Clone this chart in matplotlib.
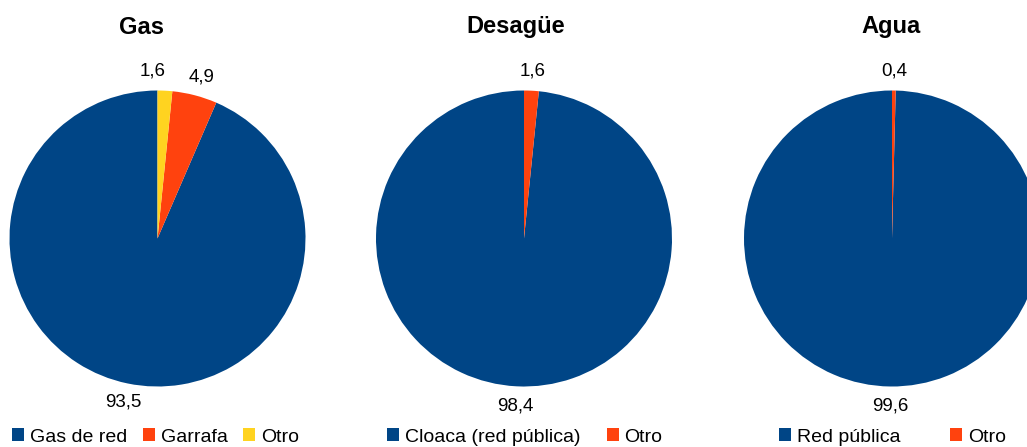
import numpy as np
import matplotlib
matplotlib.use("Agg")
import matplotlib.pyplot as plt
from matplotlib.patches import Patch

plt.rcParams['font.family'] = ['Liberation Sans', 'DejaVu Sans']

BLUE = '#004586'
ORANGE = '#ff420e'
YELLOW = '#ffd320'

gas_labels = ['Gas de red', 'Garrafa', 'Otro']
gas_values = [93.5, 4.9, 1.6]

desague_labels = ['Cloaca (red pública)', 'Otro']
desague_values = [98.4, 1.6]

agua_labels = ['Red pública', 'Otro']
agua_values = [99.6, 0.4]

W, H = 1027, 447
R = 148


def draw_pie(fig, cx, cy, title, title_x, labels, values, colors,
             nudges, leg_x, colspace):
    ax = fig.add_axes([(cx - R) / W, (H - cy - R) / H, 2 * R / W, 2 * R / H])
    wedges, _ = ax.pie(values, colors=colors, startangle=90,
                       counterclock=True, radius=1,
                       wedgeprops=dict(linewidth=0))
    ax.set_xlim(-1, 1)
    ax.set_ylim(-1, 1)
    ax.set_aspect('equal')
    ax.axis('off')

    # value labels just outside each slice
    for w, v, (nx, ny) in zip(wedges, values, nudges):
        mid = np.deg2rad((w.theta1 + w.theta2) / 2)
        x = 1.13 * np.cos(mid) + nx
        y = 1.13 * np.sin(mid) + ny
        ax.text(x, y, ('%.1f' % v).replace('.', ','), ha='center',
                va='center', fontsize=13.5, color='black')

    fig.text(title_x / W, 1 - 27 / H, title, ha='center', va='center',
             fontsize=17, fontweight='bold')

    handles = [Patch(facecolor=c, edgecolor='none') for c in colors]
    fig.legend(handles, labels, loc='center left', ncol=len(labels),
               bbox_to_anchor=(leg_x / W, 1 - 437 / H), frameon=False,
               fontsize=14, handlelength=0.62, handleheight=0.62,
               handletextpad=0.3, columnspacing=colspace,
               borderaxespad=0, borderpad=0)


fig = plt.figure(figsize=(W / 100, H / 100), dpi=100, facecolor='white')

draw_pie(fig, 157.5, 238.5, 'Gas', 142, gas_labels, gas_values,
         [BLUE, ORANGE, YELLOW], [(0, 0), (0.01, 0), (-0.09, 0)], 12, 0.8)
draw_pie(fig, 524, 238.5, 'Desagüe', 516, desague_labels, desague_values,
         [BLUE, ORANGE], [(0, 0), (0, 0)], 387, 1.35)
draw_pie(fig, 892, 238.5, 'Agua', 891, agua_labels, agua_values,
         [BLUE, ORANGE], [(0, 0), (0, 0)], 779, 2.55)

fig.savefig('out.png', dpi=100, facecolor='white')
